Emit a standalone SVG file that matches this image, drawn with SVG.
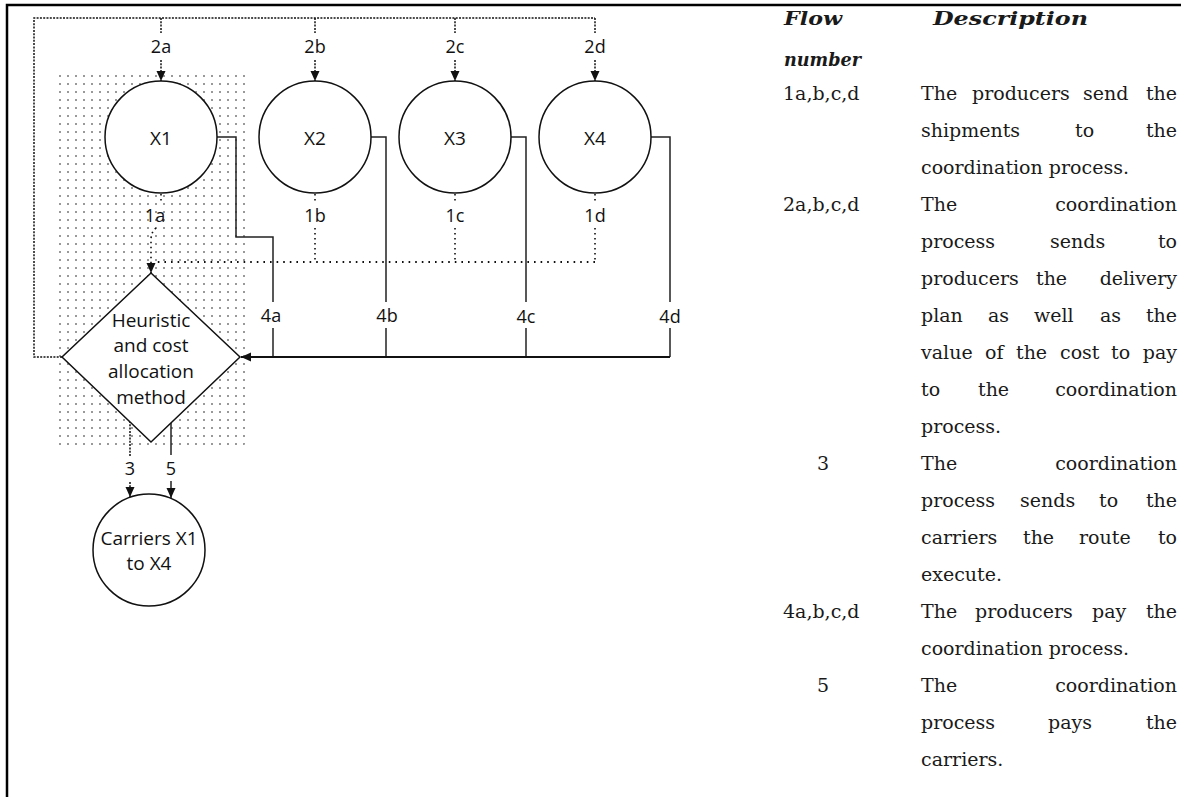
<svg xmlns="http://www.w3.org/2000/svg" width="1181" height="797" viewBox="0 0 1181 797">
<defs>
<style>
.lbl{font-family:"Open Sans","Liberation Sans",sans-serif;font-size:18px;fill:#111;text-anchor:middle}
.nt{font-family:"Open Sans","Liberation Sans",sans-serif;font-size:19px;fill:#111;text-anchor:middle}
.node{fill:#fff;stroke:#111;stroke-width:1.5}
.sol{fill:none;stroke:#222;stroke-width:1.5}
.thick{fill:none;stroke:#111;stroke-width:2}
.dd{fill:none;stroke:#111;stroke-width:1.5;stroke-dasharray:2 1.3}
.dt{fill:none;stroke:#111;stroke-width:2;stroke-dasharray:1.6 5}
.dv{fill:none;stroke:#111;stroke-width:1.6;stroke-dasharray:1.6 3.4}
.tb{font-family:"DejaVu Serif","Liberation Serif",serif;font-size:19px;fill:#1a1a1a}
.e{text-anchor:end}
.m{text-anchor:middle}
.hd{font-weight:bold;font-style:italic}
</style>
<pattern id="dots" width="8" height="8" patternUnits="userSpaceOnUse"><circle cx="4" cy="4" r="1" fill="#777"/></pattern>
<marker id="ah" viewBox="0 0 10 10" refX="10" refY="5" markerWidth="10" markerHeight="10" markerUnits="userSpaceOnUse" orient="auto"><path d="M0,0.5 L10,5 L0,9.5 z" fill="#111"/></marker>
</defs>
<rect x="0" y="0" width="1181" height="797" fill="#fff"/>
<path d="M7,797 V5 H1181" fill="none" stroke="#000" stroke-width="2.5"/>
<rect id="shade" x="53" y="69" width="197" height="377" rx="10" fill="url(#dots)"/>

<g id="connectors">
  <!-- feedback 2a-d -->
  <path class="dd" d="M62,357 H34 V18 H595"/>
  <path class="dd" d="M161,18 V33"/><path class="dd" d="M161,60 V81" marker-end="url(#ah)"/>
  <path class="dd" d="M315,18 V33"/><path class="dd" d="M315,60 V81" marker-end="url(#ah)"/>
  <path class="dd" d="M455,18 V33"/><path class="dd" d="M455,60 V81" marker-end="url(#ah)"/>
  <path class="dd" d="M595,18 V33"/><path class="dd" d="M595,60 V81" marker-end="url(#ah)"/>
  <text class="lbl" x="161" y="53">2a</text>
  <text class="lbl" x="315" y="53">2b</text>
  <text class="lbl" x="455" y="53">2c</text>
  <text class="lbl" x="595" y="53">2d</text>
  <!-- flows 1a-d -->
  <path class="dv" d="M161,194 V204"/>
  <path class="dv" d="M156,228 Q151,232 151,240 V273" marker-end="url(#ah)"/>
  <path class="dv" d="M315,194 V204"/><path class="dv" d="M315,228 V262"/>
  <path class="dv" d="M455,194 V204"/><path class="dv" d="M455,228 V262"/>
  <path class="dv" d="M595,194 V204"/><path class="dv" d="M595,228 V262"/>
  <path class="dt" d="M595,262 H157"/>
  <text class="lbl" x="155" y="222">1a</text>
  <text class="lbl" x="315" y="222">1b</text>
  <text class="lbl" x="455" y="222">1c</text>
  <text class="lbl" x="595" y="222">1d</text>
  <!-- flows 4a-d -->
  <path class="sol" d="M217,137 H236 V237 H273 V302"/><path class="sol" d="M273,328 V357"/>
  <path class="sol" d="M371,137 H386 V302"/><path class="sol" d="M386,328 V357"/>
  <path class="sol" d="M511,137 H526 V302"/><path class="sol" d="M526,328 V357"/>
  <path class="sol" d="M651,137 H670 V302"/><path class="sol" d="M670,328 V357"/>
  <path class="thick" d="M670,357 H241" marker-end="url(#ah)"/>
  <text class="lbl" x="271" y="322">4a</text>
  <text class="lbl" x="387" y="322">4b</text>
  <text class="lbl" x="526" y="323">4c</text>
  <text class="lbl" x="670" y="323">4d</text>
  <!-- flows 3 and 5 -->
  <path class="dd" d="M130,421 V456"/><path class="dd" d="M130,482 V497" marker-end="url(#ah)"/>
  <path class="sol" d="M171,423 V455"/><path class="sol" d="M171,481 V498" marker-end="url(#ah)"/>
  <text class="lbl" x="130" y="475">3</text>
  <text class="lbl" x="171" y="475">5</text>
</g>

<g id="node-x1"><circle class="node" cx="161" cy="137" r="56"/><text class="nt" x="161" y="145">X1</text></g>
<g id="node-x2"><circle class="node" cx="315" cy="137" r="56"/><text class="nt" x="315" y="145">X2</text></g>
<g id="node-x3"><circle class="node" cx="455" cy="137" r="56"/><text class="nt" x="455" y="145">X3</text></g>
<g id="node-x4"><circle class="node" cx="595" cy="137" r="56"/><text class="nt" x="595" y="145">X4</text></g>
<g id="node-heuristic">
  <polygon class="node" points="151,273 240,357 151,442 62,357"/>
  <text class="nt" x="151" y="327">Heuristic</text>
  <text class="nt" x="151" y="352">and cost</text>
  <text class="nt" x="151" y="378">allocation</text>
  <text class="nt" x="151" y="404">method</text>
</g>
<g id="node-carriers">
  <circle class="node" cx="149" cy="550" r="56"/>
  <text class="nt" x="149" y="545">Carriers X1</text>
  <text class="nt" x="149" y="570">to X4</text>
</g>

<g id="table">
  <text class="tb hd" x="784" y="25" textLength="58" lengthAdjust="spacingAndGlyphs">Flow</text>
  <text class="tb hd" x="784" y="66" textLength="77" lengthAdjust="spacingAndGlyphs">number</text>
  <text class="tb hd" x="933" y="25" textLength="155" lengthAdjust="spacingAndGlyphs">Description</text>

  <text class="tb" x="783" y="100">1a,b,c,d</text>
  <text class="tb" y="100"><tspan x="921">The</tspan><tspan x="972">producers</tspan><tspan x="1083">send</tspan></text>
  <text class="tb e" x="1177" y="100">the</text>
  <text class="tb" y="137"><tspan x="921">shipments</tspan><tspan x="1075">to</tspan></text>
  <text class="tb e" x="1177" y="137">the</text>
  <text class="tb" x="921" y="174">coordination process.</text>

  <text class="tb" x="783" y="211">2a,b,c,d</text>
  <text class="tb" x="921" y="211">The</text>
  <text class="tb e" x="1177" y="211">coordination</text>
  <text class="tb" y="248"><tspan x="921">process</tspan><tspan x="1050">sends</tspan></text>
  <text class="tb e" x="1177" y="248">to</text>
  <text class="tb" y="285"><tspan x="921">producers</tspan><tspan x="1036">the</tspan></text>
  <text class="tb e" x="1177" y="285">delivery</text>
  <text class="tb" y="322"><tspan x="921">plan</tspan><tspan x="988">as</tspan><tspan x="1034">well</tspan><tspan x="1100">as</tspan></text>
  <text class="tb e" x="1177" y="322">the</text>
  <text class="tb" y="359"><tspan x="921">value</tspan><tspan x="985">of</tspan><tspan x="1016">the</tspan><tspan x="1060">cost</tspan><tspan x="1111">to</tspan></text>
  <text class="tb e" x="1177" y="359">pay</text>
  <text class="tb" y="396"><tspan x="921">to</tspan><tspan x="978">the</tspan></text>
  <text class="tb e" x="1177" y="396">coordination</text>
  <text class="tb" x="921" y="433">process.</text>

  <text class="tb m" x="823" y="470">3</text>
  <text class="tb" x="921" y="470">The</text>
  <text class="tb e" x="1177" y="470">coordination</text>
  <text class="tb" y="507"><tspan x="921">process</tspan><tspan x="1020">sends</tspan><tspan x="1099">to</tspan></text>
  <text class="tb e" x="1177" y="507">the</text>
  <text class="tb" y="544"><tspan x="921">carriers</tspan><tspan x="1023">the</tspan><tspan x="1079">route</tspan></text>
  <text class="tb e" x="1177" y="544">to</text>
  <text class="tb" x="921" y="581">execute.</text>

  <text class="tb" x="783" y="618">4a,b,c,d</text>
  <text class="tb" y="618"><tspan x="921">The</tspan><tspan x="975">producers</tspan><tspan x="1092">pay</tspan></text>
  <text class="tb e" x="1177" y="618">the</text>
  <text class="tb" x="921" y="655">coordination process.</text>

  <text class="tb m" x="823" y="692">5</text>
  <text class="tb" x="921" y="692">The</text>
  <text class="tb e" x="1177" y="692">coordination</text>
  <text class="tb" y="729"><tspan x="921">process</tspan><tspan x="1048">pays</tspan></text>
  <text class="tb e" x="1177" y="729">the</text>
  <text class="tb" x="921" y="766">carriers.</text>
</g>
</svg>
